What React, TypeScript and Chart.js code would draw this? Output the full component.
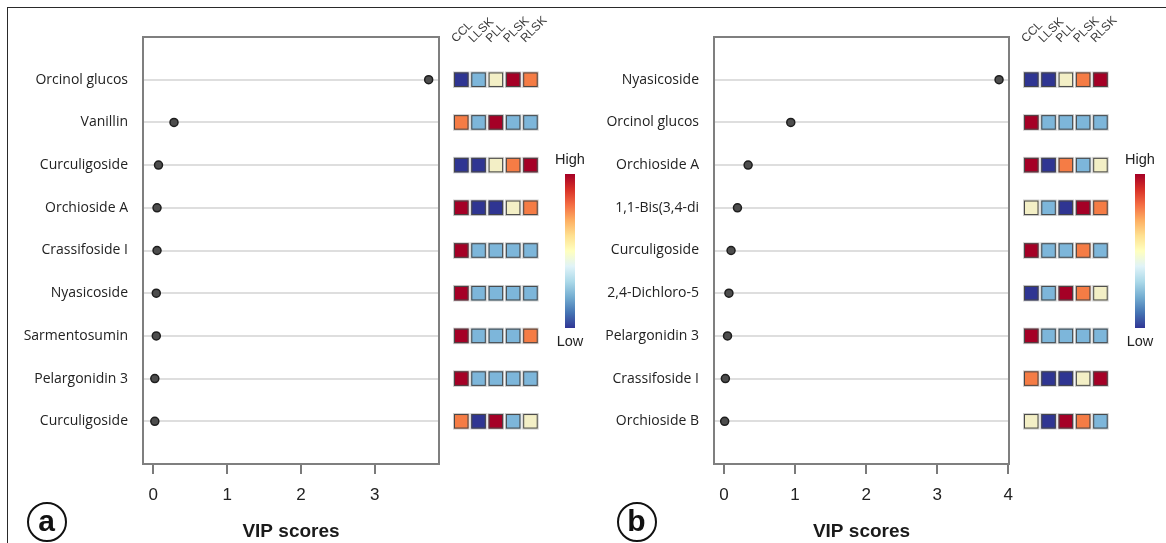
import React, { useEffect, useRef } from 'react';
import { Chart, registerables } from 'chart.js';

Chart.register(...registerables);

// ---------- data ----------
const groups = ['CCL', 'LLSK', 'PLL', 'PLSK', 'RLSK'];
// relative level 1 = lowest (dark blue) ... 5 = highest (dark red)
const levelColors = ['#2f3592', '#7db6da', '#f3efc6', '#f57c45', '#a50026'];
const colorbarStops = ['#313695', '#4575b4', '#74add1', '#abd9e9', '#e0f3f8', '#ffffbf', '#fee090', '#fdae61', '#f46d43', '#d73027', '#a50026'];

const leftLabels = ['Orcinol glucos', 'Vanillin', 'Curculigoside', 'Orchioside A', 'Crassifoside I', 'Nyasicoside', 'Sarmentosumin', 'Pelargonidin 3', 'Curculigoside'];
const leftVip = [3.73, 0.28, 0.07, 0.05, 0.05, 0.04, 0.04, 0.02, 0.02];
const leftHeat = [
  [1, 2, 3, 5, 4],
  [4, 2, 5, 2, 2],
  [1, 1, 3, 4, 5],
  [5, 1, 1, 3, 4],
  [5, 2, 2, 2, 2],
  [5, 2, 2, 2, 2],
  [5, 2, 2, 2, 4],
  [5, 2, 2, 2, 2],
  [4, 1, 5, 2, 3],
];
const leftTicks = [0, 1, 2, 3];

const rightLabels = ['Nyasicoside', 'Orcinol glucos', 'Orchioside A', '1,1-Bis(3,4-di', 'Curculigoside', '2,4-Dichloro-5', 'Pelargonidin 3', 'Crassifoside I', 'Orchioside B'];
const rightVip = [3.87, 0.94, 0.34, 0.19, 0.10, 0.07, 0.05, 0.02, 0.01];
const rightHeat = [
  [1, 1, 3, 4, 5],
  [5, 2, 2, 2, 2],
  [5, 1, 4, 2, 3],
  [3, 2, 1, 5, 4],
  [5, 2, 2, 4, 2],
  [1, 2, 5, 4, 3],
  [5, 2, 2, 2, 2],
  [4, 1, 1, 3, 5],
  [3, 1, 5, 4, 2],
];
const rightTicks = [0, 1, 2, 3, 4];

const CANVAS_H = 543;

const heatPlugin = {
  id: 'heatSide',
  beforeDatasetsDraw(chart: any) {
    const { ctx, chartArea } = chart;
    ctx.save();
    ctx.strokeStyle = '#7f7f7f';
    ctx.lineWidth = 2;
    ctx.strokeRect(chartArea.left, chartArea.top, chartArea.right - chartArea.left, chartArea.bottom - chartArea.top);
    ctx.restore();
  },
  afterDraw(chart: any, _args: any, opts: any) {
    const { ctx, chartArea, scales } = chart;
    const y = scales.y;
    const rows: number[][] = opts.rows || [];
    const x0 = chartArea.right + 15;
    const pitch = 17.3;
    const size = 14.5;
    ctx.save();
    rows.forEach((row, i) => {
      const cy = y.getPixelForValue(i);
      row.forEach((lv, j) => {
        const x = x0 + j * pitch;
        const top = cy - size / 2;
        ctx.fillStyle = levelColors[lv - 1];
        ctx.fillRect(x, top, size, size);
        ctx.strokeStyle = 'rgba(0,0,0,0.2)';
        ctx.lineWidth = 1;
        ctx.strokeRect(x - 0.5, top - 0.5, size + 1, size + 1);
        ctx.strokeStyle = '#474747';
        ctx.lineWidth = 1;
        ctx.strokeRect(x + 0.5, top + 0.5, size - 1, size - 1);
      });
    });
    // column headers
    ctx.fillStyle = '#3a3a3a';
    ctx.font = '12px "Liberation Sans", Arial, sans-serif';
    ctx.textAlign = 'left';
    ctx.textBaseline = 'alphabetic';
    groups.forEach((g, j) => {
      ctx.save();
      ctx.translate(x0 + j * pitch + 2, chartArea.top + 6);
      ctx.rotate(-Math.PI / 4);
      ctx.fillText(g, 0, 0);
      ctx.restore();
    });
    // colour bar
    const cbx = chartArea.right + 126;
    const cbw = 10;
    const cbTop = 174;
    const cbBot = 328;
    const grad = ctx.createLinearGradient(0, cbBot, 0, cbTop);
    colorbarStops.forEach((c, k) => grad.addColorStop(k / (colorbarStops.length - 1), c));
    ctx.fillStyle = grad;
    ctx.fillRect(cbx, cbTop, cbw, cbBot - cbTop);
    ctx.fillStyle = '#222';
    ctx.font = '14.5px "Liberation Sans", Arial, sans-serif';
    ctx.textAlign = 'center';
    ctx.textBaseline = 'middle';
    ctx.fillText('High', cbx + cbw / 2, 160);
    ctx.fillText('Low', cbx + cbw / 2, 342);
    ctx.restore();
  },
};

function makeConfig(labels: string[], vip: number[], heat: number[][], ticks: number[], xMax: number, yWidth: number, padRight: number) {
  return {
    type: 'scatter' as const,
    data: {
      datasets: [
        {
          data: vip.map((v, i) => ({ x: v, y: i })),
          pointRadius: 4,
          pointHoverRadius: 4,
          backgroundColor: '#4d4d4d',
          borderColor: '#1e1e1e',
          borderWidth: 1.5,
        },
      ],
    },
    options: {
      responsive: false,
      animation: false as const,
      events: [],
      layout: { padding: { left: 0, right: padRight, top: 37, bottom: 0 } },
      plugins: {
        legend: { display: false },
        tooltip: { enabled: false },
        heatSide: { rows: heat },
      },
      scales: {
        x: {
          type: 'linear' as const,
          min: -0.14,
          max: xMax,
          afterBuildTicks: (s: any) => {
            s.ticks = ticks.map((v) => ({ value: v }));
          },
          afterFit: (s: any) => {
            s.height = 79;
          },
          ticks: {
            font: { family: '"Liberation Sans", Arial, sans-serif', size: 17 },
            color: '#222',
            padding: 11,
            maxRotation: 0,
            callback: (v: any) => String(v),
          },
          grid: { drawOnChartArea: false, drawTicks: true, tickLength: 10, color: '#7a7a7a', lineWidth: 2 },
          border: { display: false },
          title: {
            display: true,
            text: 'VIP scores',
            font: { family: '"Liberation Sans", Arial, sans-serif', size: 19, weight: 'bold' as const },
            color: '#1a1a1a',
            padding: { top: 0, bottom: 0 },
          },
        },
        y: {
          type: 'linear' as const,
          min: -1,
          max: 9,
          reverse: true,
          afterBuildTicks: (s: any) => {
            s.ticks = labels.map((_, i) => ({ value: i }));
          },
          afterFit: (s: any) => {
            s.width = yWidth;
          },
          ticks: {
            autoSkip: false,
            font: { family: '"Open Sans", sans-serif', size: 14 },
            color: '#222',
            padding: 15,
            callback: (_v: any, idx: number) => labels[idx],
          },
          grid: { color: '#dedede', lineWidth: 2, drawTicks: false },
          border: { display: false },
        },
      },
    },
    plugins: [heatPlugin],
  };
}

function Panel(props: { left: number; width: number; labels: string[]; vip: number[]; heat: number[][]; ticks: number[]; xMax: number; yWidth: number; boxRight: number }) {
  const ref = useRef<HTMLCanvasElement | null>(null);
  useEffect(() => {
    if (!ref.current) return;
    const chart = new Chart(
      ref.current,
      makeConfig(props.labels, props.vip, props.heat, props.ticks, props.xMax, props.yWidth, props.width - props.boxRight) as any
    );
    return () => chart.destroy();
  }, []);
  return (
    <canvas
      ref={ref}
      width={props.width}
      height={CANVAS_H}
      style={{ position: 'absolute', left: props.left, top: 0, width: props.width, height: CANVAS_H }}
    />
  );
}

function Badge(props: { cx: number; cy: number; letter: string }) {
  const r = 20;
  return (
    <div
      style={{
        position: 'absolute',
        left: props.cx - r,
        top: props.cy - r,
        width: r * 2,
        height: r * 2,
        boxSizing: 'border-box',
        border: '2.5px solid #111',
        borderRadius: '50%',
        display: 'flex',
        alignItems: 'center',
        justifyContent: 'center',
        fontFamily: '"Liberation Sans", Arial, sans-serif',
        fontWeight: 'bold',
        fontSize: 30,
        lineHeight: 1,
        color: '#111',
        paddingBottom: 3,
      }}
    >
      {props.letter}
    </div>
  );
}

export default function App() {
  return (
    <div style={{ position: 'absolute', left: 0, top: 0, width: 1166, height: 543, background: '#fff', overflow: 'hidden' }}>
      <div
        style={{
          position: 'absolute',
          left: 7,
          top: 7,
          width: 1170,
          height: 545,
          borderTop: '1.5px solid #2a2a2a',
          borderLeft: '1.5px solid #2a2a2a',
        }}
      />
      <Panel left={0} width={600} labels={leftLabels} vip={leftVip} heat={leftHeat} ticks={leftTicks} xMax={3.87} yWidth={143} boxRight={439} />
      <Panel left={583} width={583} labels={rightLabels} vip={rightVip} heat={rightHeat} ticks={rightTicks} xMax={4.01} yWidth={131} boxRight={426} />
      <Badge cx={46.5} cy={522} letter="a" />
      <Badge cx={636.5} cy={522} letter="b" />
    </div>
  );
}
